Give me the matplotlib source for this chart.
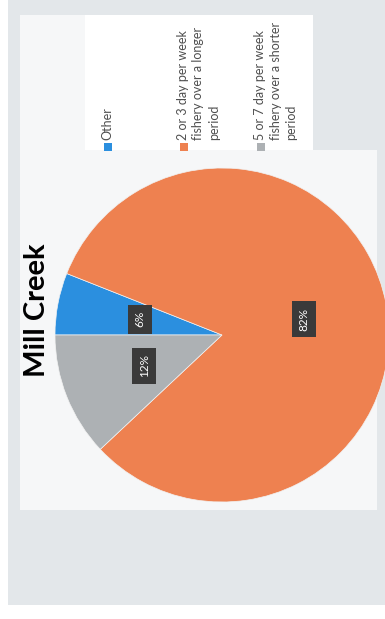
import matplotlib.pyplot as plt
from matplotlib.patches import Rectangle

plt.rcParams['font.family'] = ['Lato', 'DejaVu Sans']

title = "Mill Creek"
labels = ["Other",
          "2 or 3 day per week\nfishery over a longer\nperiod",
          "5 or 7 day per week\nfishery over a shorter\nperiod"]
shares = [6, 82, 12]
colors = ["#2b8fdf", "#ee8150", "#adb1b4"]

W, H = 385, 619
fig = plt.figure(figsize=(W / 100, H / 100), dpi=100, facecolor="white")

# page layer in pixel units, y going down
bg = fig.add_axes([0, 0, 1, 1])
bg.set_xlim(0, W)
bg.set_ylim(H, 0)
bg.axis("off")
bg.add_patch(Rectangle((8, 0), W - 8, 605, color="#e3e7ea", lw=0))
bg.add_patch(Rectangle((20, 15), 293, 135, color="#f6f7f8", lw=0))
bg.add_patch(Rectangle((20, 150), W - 28, 360, color="#f6f7f8", lw=0))
bg.add_patch(Rectangle((85, 15), 228, 135, color="white", lw=0))

# chart is turned a quarter turn, so all text runs bottom to top
bg.text(37, 310, title, rotation=90, ha="center", va="center",
        fontsize=21, fontweight="bold", color="black")

leg_x = [108, 184, 261]
for x, lab, c in zip(leg_x, labels, colors):
    bg.scatter([x], [147], marker="s", s=30, color=c, lw=0)
    bg.text(x - 7, 140, lab, rotation=90, ha="left", va="bottom",
            fontsize=9, color="#4f4f4f", multialignment="left",
            linespacing=1.35)

cx, cy, r = 222, 335, 167
ax = fig.add_axes([(cx - r) / W, 1 - (cy + r) / H, 2 * r / W, 2 * r / H])
wedges, _, pcts = ax.pie(shares, colors=colors, startangle=180,
                         counterclock=False,
                         autopct=lambda p: f"{p:.0f}%", pctdistance=0.5,
                         wedgeprops=dict(linewidth=0.5, edgecolor="#f2f2f2"),
                         textprops=dict(color="white", fontsize=8.5))
for t in pcts:
    t.set_rotation(90)
    t.set_bbox(dict(boxstyle="square,pad=0.55", fc="#3a3a3a", ec="none"))
ax.set_xlim(-1, 1)
ax.set_ylim(-1, 1)
ax.patch.set_alpha(0)

fig.savefig("out.png", dpi=100)
